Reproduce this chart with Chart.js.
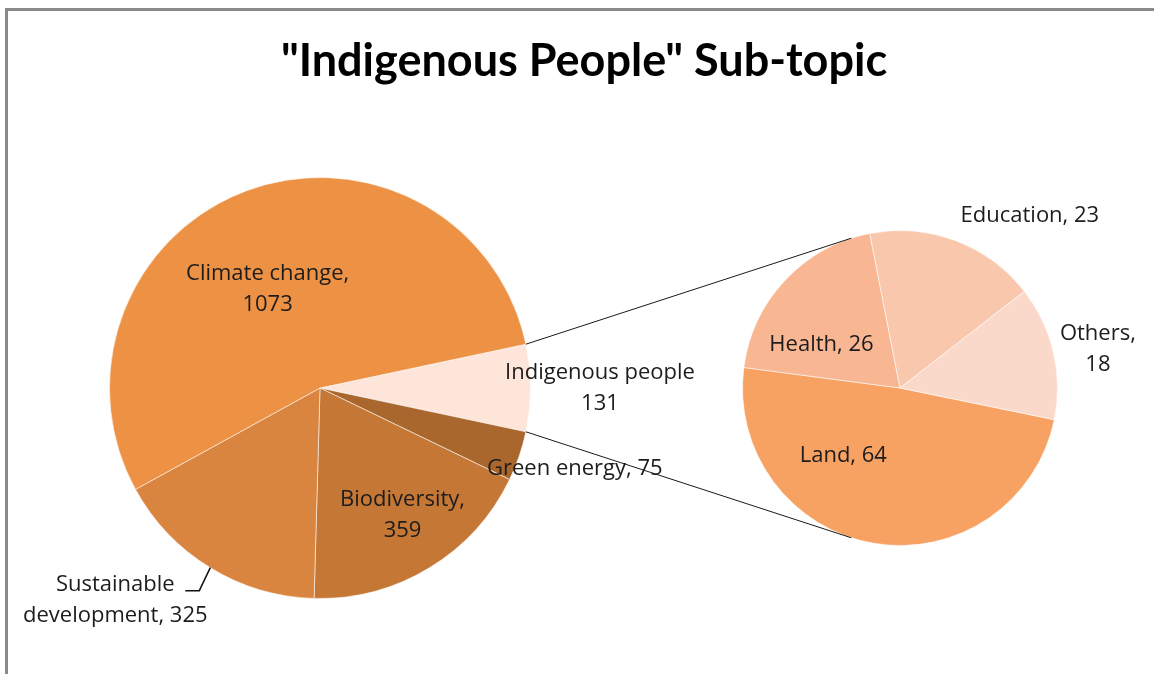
<!DOCTYPE html>
<html>
<head>
<meta charset="utf-8">
<script src="https://cdn.jsdelivr.net/npm/chart.js@4.4.1/dist/chart.umd.min.js"></script>
<style>
  body { margin: 0; background: #fff; }
  #wrap { position: relative; width: 1154px; height: 674px; }
  canvas { position: absolute; left: 0; top: 0; }
</style>
</head>
<body>
<div id="wrap">
  <canvas id="mainPie" width="1154" height="674"></canvas>
  <canvas id="subPie" width="1154" height="674"></canvas>
</div>
<script>
const mainLabels = ['Indigenous people', 'Green energy', 'Biodiversity', 'Sustainable development', 'Climate change'];
const mainValues = [131, 75, 359, 325, 1073];
const mainColors = ['#fde5da', '#a9672d', '#c57736', '#d9843f', '#ed9144'];

const subLabels = ['Land', 'Health', 'Education', 'Others'];
const subValues = [64, 26, 23, 18];
const subColors = ['#f7a163', '#f8b692', '#f9c7ab', '#fbd9ca'];

const titleText = '"Indigenous People" Sub-topic';

const FONT = '"Open Sans", Lato, sans-serif';
const TITLE_FONT = 'Lato, "Open Sans", sans-serif';
const TEXT = '#1c1c1c';

// label placement: polar angle (deg, 0 = east, clockwise) and fraction of radius
const mainLabelPos = [
  { ang: 0, r: 1.33, mode: 'stack' },
  { ang: 17.6, r: 1.27, mode: 'line' },
  { ang: 57, r: 0.72, mode: 'comma' },
  { ang: 134, r: 1.4, mode: 'split', leader: true },
  { ang: 242, r: 0.53, mode: 'comma' }
];
const subLabelPos = [
  { ang: 130, r: 0.56, mode: 'line' },
  { ang: 209, r: 0.57, mode: 'line' },
  { ang: 307, r: 1.37, mode: 'line' },
  { ang: 349, r: 1.28, mode: 'comma' }
];

function labelLines(label, value, mode) {
  if (mode === 'stack') return [label, String(value)];
  if (mode === 'line') return [label + ', ' + value];
  if (mode === 'comma') return [label + ',', String(value)];
  const i = label.indexOf(' ');
  return [label.slice(0, i), label.slice(i + 1) + ', ' + value];
}

function sliceLabels(pos) {
  return {
    id: 'sliceLabels',
    afterDatasetsDraw(chart) {
      const ctx = chart.ctx;
      const meta = chart.getDatasetMeta(0);
      const labels = chart.data.labels;
      const values = chart.data.datasets[0].data;
      ctx.save();
      ctx.font = '22px ' + FONT;
      ctx.fillStyle = TEXT;
      ctx.textAlign = 'center';
      ctx.textBaseline = 'middle';
      meta.data.forEach((arc, i) => {
        const p = pos[i];
        const a = p.ang * Math.PI / 180;
        const cx = arc.x + Math.cos(a) * arc.outerRadius * p.r;
        const cy = arc.y + Math.sin(a) * arc.outerRadius * p.r;
        const lines = labelLines(labels[i], values[i], p.mode);
        lines.forEach((t, k) => ctx.fillText(t, cx, cy + (k - (lines.length - 1) / 2) * 31));
        if (p.leader) {
          const mid = (arc.startAngle + arc.endAngle) / 2;
          const sx = arc.x + Math.cos(mid) * arc.outerRadius;
          const sy = arc.y + Math.sin(mid) * arc.outerRadius;
          ctx.strokeStyle = '#111';
          ctx.lineWidth = 1.5;
          ctx.beginPath();
          ctx.moveTo(sx, sy);
          ctx.lineTo(sx - 11, sy + 23);
          ctx.lineTo(sx - 25, sy + 23);
          ctx.stroke();
        }
      });
      ctx.restore();
    }
  };
}

const frameAndTitle = {
  id: 'frameAndTitle',
  beforeDraw(chart) {
    const ctx = chart.ctx;
    ctx.save();
    ctx.fillStyle = '#fff';
    ctx.fillRect(0, 0, chart.width, chart.height);
    ctx.strokeStyle = '#8a8a8a';
    ctx.lineWidth = 3;
    ctx.strokeRect(6.5, 9.5, 1300, 800);
    ctx.font = 'bold 45px ' + TITLE_FONT;
    ctx.fillStyle = '#000';
    ctx.textAlign = 'center';
    ctx.textBaseline = 'alphabetic';
    ctx.fillText(titleText, 584, 76);
    ctx.restore();
  }
};

const baseOptions = {
  responsive: false,
  animation: false,
  plugins: { legend: { display: false }, tooltip: { enabled: false } }
};

const mainTotal = mainValues.reduce((a, b) => a + b, 0);

const mainChart = new Chart(document.getElementById('mainPie'), {
  type: 'pie',
  data: {
    labels: mainLabels,
    datasets: [{
      data: mainValues,
      backgroundColor: mainColors,
      borderColor: 'rgba(255,255,255,0.55)',
      borderWidth: 1
    }]
  },
  options: {
    ...baseOptions,
    rotation: 90 - mainValues[0] / mainTotal * 180,
    layout: { padding: { left: 109, right: 623, top: 177, bottom: 75 } }
  },
  plugins: [frameAndTitle, sliceLabels(mainLabelPos)]
});

const connector = {
  id: 'connector',
  afterDraw(chart) {
    const src = mainChart.getDatasetMeta(0).data[0];
    const dst = chart.getDatasetMeta(0).data[0];
    const ctx = chart.ctx;
    const ends = [[src.startAngle, -108], [src.endAngle, 108]];
    ctx.save();
    ctx.strokeStyle = '#1a1a1a';
    ctx.lineWidth = 1;
    ends.forEach(([a, b]) => {
      const bb = b * Math.PI / 180;
      ctx.beginPath();
      ctx.moveTo(src.x + Math.cos(a) * src.outerRadius, src.y + Math.sin(a) * src.outerRadius);
      ctx.lineTo(dst.x + Math.cos(bb) * dst.outerRadius, dst.y + Math.sin(bb) * dst.outerRadius);
      ctx.stroke();
    });
    ctx.restore();
  }
};

new Chart(document.getElementById('subPie'), {
  type: 'pie',
  data: {
    labels: subLabels,
    datasets: [{
      data: subValues,
      backgroundColor: subColors,
      borderColor: 'rgba(255,255,255,0.55)',
      borderWidth: 1
    }]
  },
  options: {
    ...baseOptions,
    rotation: 101.6,
    layout: { padding: { left: 742, right: 96, top: 230, bottom: 128 } }
  },
  plugins: [connector, sliceLabels(subLabelPos)]
});
</script>
</body>
</html>
